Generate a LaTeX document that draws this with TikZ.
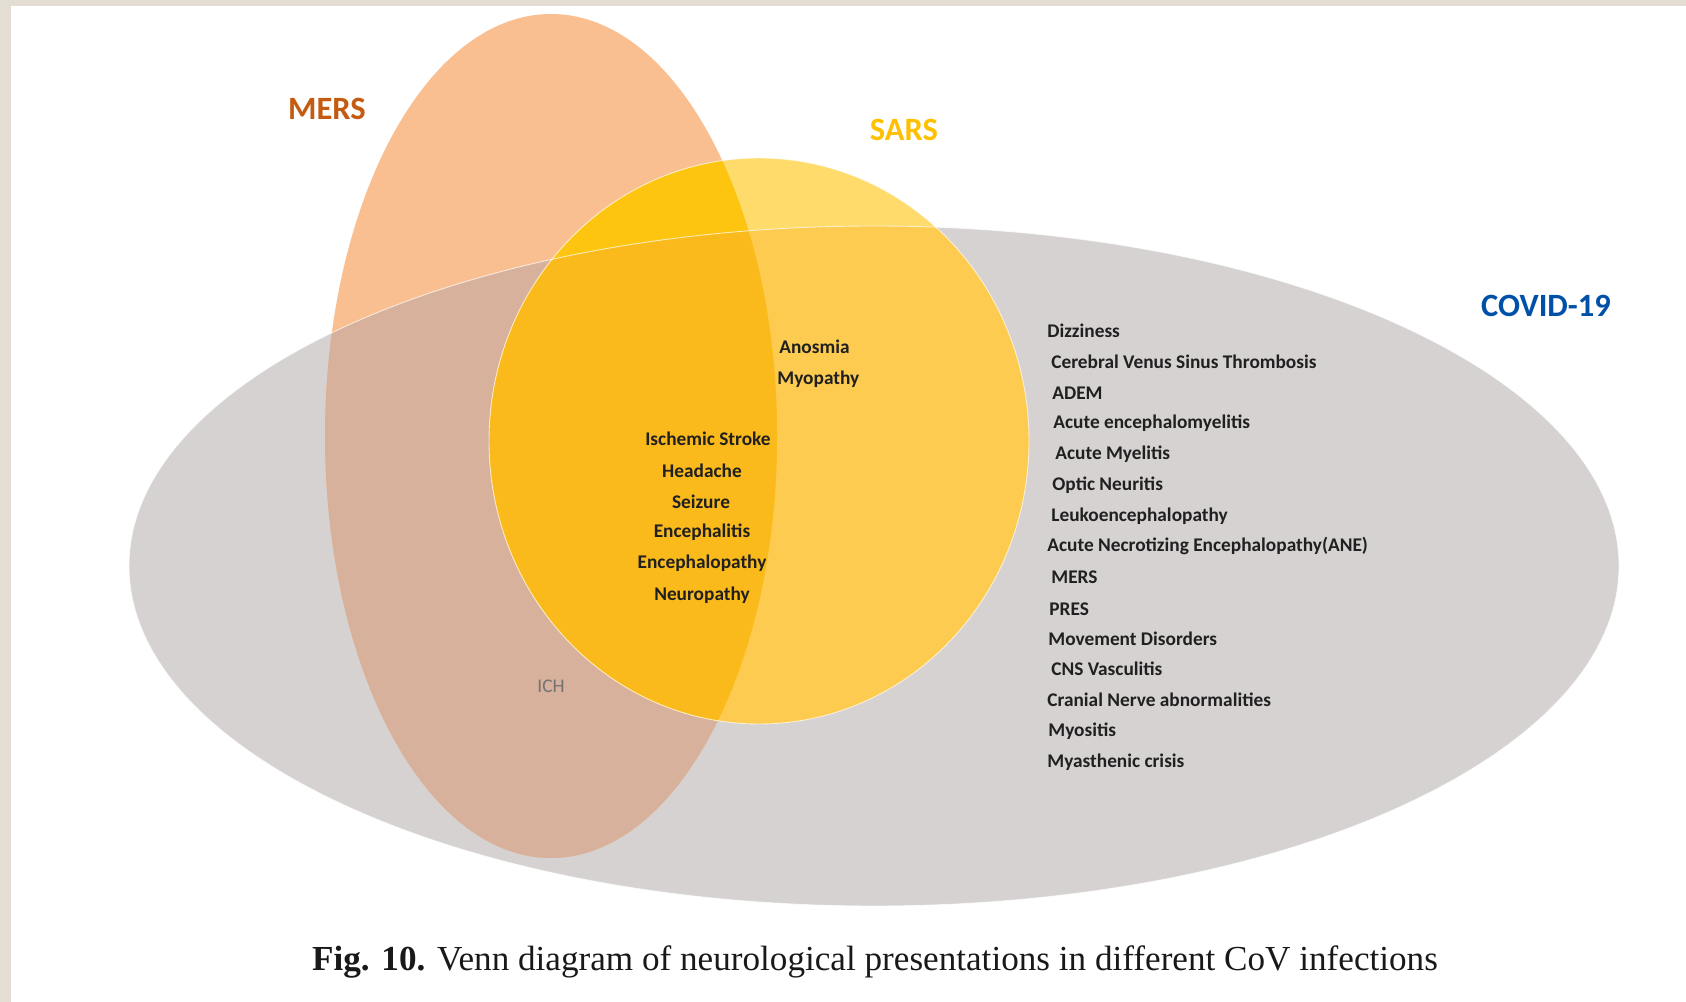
\documentclass[tikz,border=0pt]{standalone}
\usepackage{fontspec}
\setmainfont{Carlito}
\newfontfamily\captionfont{Liberation Serif}

\definecolor{framebeige}{HTML}{E3DDD3}
\definecolor{covidgray}{HTML}{D5D2D1}
\definecolor{mersfill}{HTML}{F9BF91}
\definecolor{merscovid}{HTML}{D7B19B}
\definecolor{sarsfill}{HTML}{FEDB6B}
\definecolor{sarsmers}{HTML}{FDC50F}
\definecolor{sarscovid}{HTML}{FDCB4F}
\definecolor{allthree}{HTML}{FBBA1B}
\definecolor{merstext}{HTML}{C55A11}
\definecolor{sarstext}{HTML}{FFC000}
\definecolor{covidtext}{HTML}{0050A8}
\definecolor{symptomtext}{HTML}{202020}

% the three sets
\newcommand{\covidset}{(874,566) ellipse [x radius=745, y radius=340]}
\newcommand{\mersset}{(551,436) ellipse [x radius=226, y radius=422]}
\newcommand{\sarsset}{(759,441) ellipse [x radius=270, y radius=283]}

\tikzset{
    setlabel/.style={font=\fontsize{18.5}{22}\selectfont\bfseries},
    symptom/.style={font=\fontsize{11}{13}\selectfont\bfseries, text=symptomtext, inner sep=0pt},
    listsymptom/.style={symptom, anchor=west},
}

\begin{document}
\begin{tikzpicture}[x=0.2mm,y=-0.2mm]
        \useasboundingbox (0,0) rectangle (1686,1002);
        % page edge
        \fill[framebeige] (0,0) rectangle (1686,6);
        \fill[framebeige] (0,0) rectangle (11,1002);

        % sets and their overlaps
        \fill[covidgray] \covidset;
        \fill[mersfill] \mersset;
        \begin{scope}
            \clip \covidset;
            \fill[merscovid] \mersset;
        \end{scope}
        \fill[sarsfill] \sarsset;
        \begin{scope}
            \clip \sarsset;
            \fill[sarscovid] \covidset;
            \fill[sarsmers] \mersset;
            \clip \covidset;
            \fill[allthree] \mersset;
        \end{scope}
        \draw[white, opacity=.7, line width=.5pt] \covidset;
        \draw[white, opacity=.7, line width=.5pt] \sarsset;

        % set names
        \node[setlabel, text=merstext] (merslabel) at (327,109) {MERS};
        \node[setlabel, text=sarstext] (sarslabel) at (904,130) {SARS};
        \node[setlabel, text=covidtext] (covidlabel) at (1546,306) {COVID-19};

        % shared by all three
        \node[symptom] (stroke) at (708,439) {Ischemic Stroke};
        \node[symptom] (headache) at (702,471) {Headache};
        \node[symptom] (seizure) at (701,502) {Seizure};
        \node[symptom] (encephalitis) at (702,532) {Encephalitis};
        \node[symptom] (encephalopathy) at (702,563) {Encephalopathy};
        \node[symptom] (neuropathy) at (702,595) {Neuropathy};

        % sars and covid
        \node[listsymptom] (anosmia) at (779,347) {Anosmia};
        \node[listsymptom] (myopathy) at (777,379) {Myopathy};

        % mers and covid
        \node[font=\fontsize{11}{13}\selectfont, text=black!55, inner sep=0pt] (ich) at (551,686) {ICH};

        % covid only
        \node[listsymptom] (dizziness) at (1047,331) {Dizziness};
        \node[listsymptom] (cvst) at (1051,362) {Cerebral Venus Sinus Thrombosis};
        \node[listsymptom] (adem) at (1052,393) {ADEM};
        \node[listsymptom] (acuteem) at (1053,423) {Acute encephalomyelitis};
        \node[listsymptom] (myelitis) at (1055,454) {Acute Myelitis};
        \node[listsymptom] (optic) at (1052,485) {Optic Neuritis};
        \node[listsymptom] (leuko) at (1051,516) {Leukoencephalopathy};
        \node[listsymptom] (ane) at (1047,546) {Acute Necrotizing Encephalopathy(ANE)};
        \node[listsymptom] (mers) at (1051,577) {MERS};
        \node[listsymptom] (pres) at (1049,609) {PRES};
        \node[listsymptom] (movement) at (1048,639) {Movement Disorders};
        \node[listsymptom] (cns) at (1051,669) {CNS Vasculitis};
        \node[listsymptom] (cranial) at (1047,700) {Cranial Nerve abnormalities};
        \node[listsymptom] (myositis) at (1048,731) {Myositis};
        \node[listsymptom] (myasthenic) at (1047,762) {Myasthenic crisis};

        % caption
        \node[font=\captionfont\fontsize{20}{24}\selectfont, text=black!90] (caption) at (875,962)
            {\textbf{Fig. 10.} Venn diagram of neurological presentations in different CoV infections};
\end{tikzpicture}
\end{document}
